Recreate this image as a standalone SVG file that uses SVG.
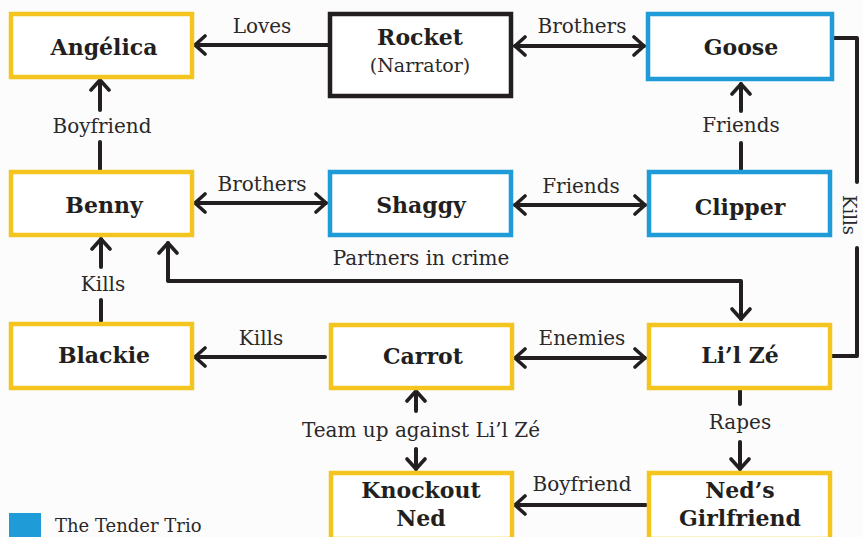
<svg xmlns="http://www.w3.org/2000/svg" width="863" height="537" viewBox="0 0 863 537">
<defs>
<style>
.bg{fill:#fcfcfd}
.y{fill:#fff;stroke:#f4c51e;stroke-width:4.5}
.b{fill:#fff;stroke:#1f9bd7;stroke-width:4.5}
.k{fill:#fff;stroke:#231f20;stroke-width:4.5}
.n{font-family:"DejaVu Serif",serif;font-weight:bold;font-size:22px;fill:#231f20;text-anchor:middle}
.sub{font-family:"DejaVu Serif",serif;font-size:19px;fill:#2b2829;text-anchor:middle}
.l{font-family:"DejaVu Serif",serif;font-size:20px;fill:#2b2829;text-anchor:middle}
.c{fill:none;stroke:#231f20;stroke-width:4;stroke-linecap:round;stroke-linejoin:round}
</style>
<marker id="ah" viewBox="0 0 14 22" refX="12" refY="11" markerWidth="14" markerHeight="22" markerUnits="userSpaceOnUse" orient="auto-start-reverse">
<path d="M2,2 L12,11 L2,20" fill="none" stroke="#231f20" stroke-width="3.6" stroke-linecap="round" stroke-linejoin="round"/>
</marker>
</defs>
<rect class="bg" x="0" y="0" width="863" height="537"/>

<g id="connectors">
<line class="c" x1="328" y1="45" x2="195" y2="45" marker-end="url(#ah)"/>
<line class="c" x1="515" y1="46" x2="644" y2="46" marker-start="url(#ah)" marker-end="url(#ah)"/>
<line class="c" x1="100" y1="110" x2="100" y2="80" marker-end="url(#ah)"/>
<line class="c" x1="100" y1="142" x2="100" y2="170"/>
<line class="c" x1="741" y1="111" x2="741" y2="84" marker-end="url(#ah)"/>
<line class="c" x1="741" y1="143" x2="741" y2="170"/>
<line class="c" x1="195" y1="203" x2="326" y2="203" marker-start="url(#ah)" marker-end="url(#ah)"/>
<line class="c" x1="515" y1="205" x2="645" y2="205" marker-start="url(#ah)" marker-end="url(#ah)"/>
<polyline class="c" points="832,356 857,356 857,248"/>
<polyline class="c" points="857,182 857,38 816,38" marker-end="url(#ah)"/>
<polyline class="c" points="168,243 168,281 741,281 741,319" marker-start="url(#ah)" marker-end="url(#ah)"/>
<line class="c" x1="101" y1="267" x2="101" y2="239" marker-end="url(#ah)"/>
<line class="c" x1="101" y1="300" x2="101" y2="321"/>
<line class="c" x1="325" y1="357" x2="195" y2="357" marker-end="url(#ah)"/>
<line class="c" x1="515" y1="358" x2="645" y2="358" marker-start="url(#ah)" marker-end="url(#ah)"/>
<line class="c" x1="416" y1="411" x2="416" y2="391" marker-end="url(#ah)"/>
<line class="c" x1="416" y1="449" x2="416" y2="469" marker-end="url(#ah)"/>
<line class="c" x1="740" y1="390" x2="740" y2="404"/>
<line class="c" x1="740" y1="442" x2="740" y2="469" marker-end="url(#ah)"/>
<line class="c" x1="646" y1="505" x2="515" y2="505" marker-end="url(#ah)"/>
</g>

<g id="labels">
<text class="l" x="262" y="33">Loves</text>
<text class="l" x="582" y="33">Brothers</text>
<text class="l" x="102" y="133">Boyfriend</text>
<text class="l" x="741" y="132">Friends</text>
<text class="l" x="262" y="191">Brothers</text>
<text class="l" x="581" y="193">Friends</text>
<text class="l" x="421" y="265">Partners in crime</text>
<text class="l" x="103" y="291">Kills</text>
<text class="l" x="261" y="345">Kills</text>
<text class="l" x="582" y="345">Enemies</text>
<text class="l" x="421" y="437">Team up against Li’l Zé</text>
<text class="l" x="740" y="429">Rapes</text>
<text class="l" x="582" y="491">Boyfriend</text>
<text class="l" style="font-size:18px" transform="translate(843,215) rotate(90)">Kills</text>
</g>

<g id="angelica"><rect class="y" x="11" y="14" width="181" height="63"/><text class="n" x="104" y="55">Angélica</text></g>
<g id="rocket"><rect class="k" x="330" y="14" width="181" height="82"/><text class="n" x="420" y="45">Rocket</text><text class="sub" x="420" y="72">(Narrator)</text></g>
<g id="goose"><rect class="b" x="648" y="14" width="184" height="65"/><text class="n" x="741" y="55">Goose</text></g>
<g id="benny"><rect class="y" x="11" y="172" width="181" height="63"/><text class="n" x="104" y="213">Benny</text></g>
<g id="shaggy"><rect class="b" x="330" y="172" width="181" height="63"/><text class="n" x="421" y="213">Shaggy</text></g>
<g id="clipper"><rect class="b" x="649" y="172" width="181" height="63"/><text class="n" x="740" y="215">Clipper</text></g>
<g id="blackie"><rect class="y" x="11" y="324" width="181" height="64"/><text class="n" x="104" y="363">Blackie</text></g>
<g id="carrot"><rect class="y" x="331" y="325" width="181" height="63"/><text class="n" x="423" y="364">Carrot</text></g>
<g id="lilze"><rect class="y" x="649" y="325" width="181" height="63"/><text class="n" x="740" y="363">Li’l Zé</text></g>
<g id="knockout-ned"><rect class="y" x="331" y="473" width="181" height="66"/><text class="n" x="421" y="498">Knockout</text><text class="n" x="421" y="526">Ned</text></g>
<g id="neds-girlfriend"><rect class="y" x="649" y="473" width="181" height="66"/><text class="n" x="740" y="498">Ned’s</text><text class="n" x="740" y="526">Girlfriend</text></g>

<g id="legend"><rect x="9" y="513" width="32" height="30" fill="#1f9bd7"/><text x="55" y="532" font-family="DejaVu Serif, serif" font-size="18" fill="#2b2829">The Tender Trio</text></g>
</svg>
